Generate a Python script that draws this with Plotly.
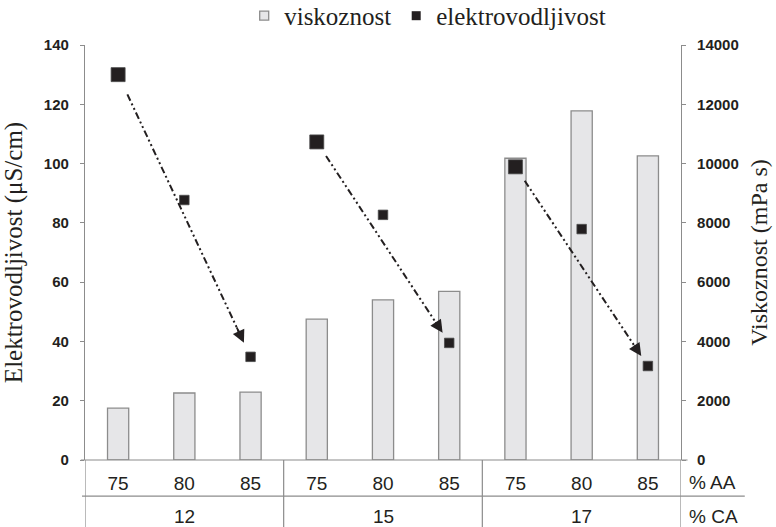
import plotly.graph_objects as go

# ---- data ----
aa_labels = ["75", "80", "85", "75", "80", "85", "75", "80", "85"]   # % AA
ca_groups = ["12", "15", "17"]                                        # % CA
viskoznost = [1750, 2260, 2290, 4750, 5400, 5690, 10180, 11780, 10260]  # mPa s
elektrovodljivost = [130, 87.7, 34.8, 107.3, 82.7, 39.5, 98.9, 77.9, 31.7]  # uS/cm
marker_sizes = [14, 9.5, 9.5, 14, 9.5, 9.5, 14, 9.5, 9.5]

DARK = "#231f20"
GRAY = "#8c8c8c"
BAR_FILL = "#e6e6e8"
SERIF = "Liberation Serif, Times New Roman, serif"
SANS = "Liberation Sans, Arial, sans-serif"

n = len(aa_labels)
xpos = list(range(n))
gsize = n // len(ca_groups)

fig = go.Figure()

# bars on the (right-side) primary axis, drawn underneath
fig.add_trace(go.Bar(
    x=xpos, y=viskoznost, yaxis="y", width=0.32,
    marker=dict(color=BAR_FILL, line=dict(color=GRAY, width=1.3)),
    name="viskoznost", showlegend=False, hoverinfo="skip"))

# conductivity on the overlaying left axis, drawn on top
fig.add_trace(go.Scatter(
    x=xpos, y=elektrovodljivost, yaxis="y2", mode="markers",
    marker=dict(symbol="square", size=marker_sizes, color=DARK, opacity=1,
                line=dict(color="#4a4a4a", width=0.8)),
    name="elektrovodljivost", showlegend=False, hoverinfo="skip"))

# dash-dot-dot arrows from first to last point of each group
annotations = []
for g in range(len(ca_groups)):
    i0, i2 = g * gsize, g * gsize + gsize - 1
    x0, y0 = xpos[i0], elektrovodljivost[i0]
    x2, y2 = xpos[i2], elektrovodljivost[i2]
    dx, dy = x2 - x0, y2 - y0
    sx, sy = x0 + 0.07 * dx, y0 + 0.07 * dy
    ex, ey = x2 - 0.05 * dx, y2 - 0.05 * dy
    fig.add_trace(go.Scatter(
        x=[sx, ex - 0.03 * dx], y=[sy, ey - 0.03 * dy], yaxis="y2", mode="lines",
        line=dict(color=DARK, width=2, dash="7px,3px,2px,3px,2px,3px"),
        showlegend=False, hoverinfo="skip"))
    annotations.append(dict(
        x=ex, y=ey, ax=ex - 0.06 * dx, ay=ey - 0.06 * dy,
        xref="x", yref="y2", axref="x", ayref="y2", text="",
        showarrow=True, arrowhead=2, arrowsize=1.4, arrowwidth=1.8,
        arrowcolor=DARK))

# legend-only entries
fig.add_trace(go.Scatter(
    x=[None], y=[None], yaxis="y2", mode="markers", name="viskoznost",
    marker=dict(symbol="square", size=9, color=BAR_FILL,
                line=dict(color=GRAY, width=1.3))))
fig.add_trace(go.Scatter(
    x=[None], y=[None], yaxis="y2", mode="markers", name="elektrovodljivost",
    marker=dict(symbol="square", size=9, color=DARK)))

# category table labels
for g, lab in enumerate(ca_groups):
    annotations.append(dict(
        x=(g * gsize + g * gsize + gsize - 1) / 2, y=-0.137, xref="x", yref="paper",
        yanchor="middle", text=lab, showarrow=False,
        font=dict(family=SANS, size=19, color=DARK)))
annotations.append(dict(x=1.01, y=-0.055, xref="paper", yref="paper", text="% AA",
                        xanchor="left", yanchor="middle", showarrow=False,
                        font=dict(family=SANS, size=19, color=DARK)))
annotations.append(dict(x=1.01, y=-0.137, xref="paper", yref="paper", text="% CA",
                        xanchor="left", yanchor="middle", showarrow=False,
                        font=dict(family=SANS, size=19, color=DARK)))

shapes = []
line_style = dict(color=GRAY, width=1.2)
# zero line
shapes.append(dict(type="line", xref="paper", yref="paper", x0=-0.007, x1=1.011,
                   y0=0, y1=0, line=line_style))
# row separator
shapes.append(dict(type="line", xref="paper", yref="paper", x0=-0.005, x1=1.107,
                   y0=-0.087, y1=-0.087, line=line_style))
# vertical lines
for k in range(len(ca_groups) + 1):
    shapes.append(dict(type="line", xref="x", yref="paper",
                       x0=k * gsize - 0.5, x1=k * gsize - 0.5, y0=0, y1=-0.18,
                       line=line_style))

fig.update_layout(
    width=776, height=527,
    margin=dict(l=85, r=95, t=45, b=67, autoexpand=False),
    paper_bgcolor="white", plot_bgcolor="white",
    showlegend=True,
    legend=dict(orientation="h", x=0.575, xanchor="center", y=1.07, yanchor="middle",
                font=dict(family=SERIF, size=25, color=DARK), itemwidth=30,
                bgcolor="rgba(0,0,0,0)"),
    xaxis=dict(range=[-0.5, n - 0.5], tickmode="array", tickvals=xpos,
               ticktext=aa_labels, ticks="", showline=False, showgrid=False,
               zeroline=False, ticklabelstandoff=10,
               tickfont=dict(family=SANS, size=19, color=DARK)),
    yaxis=dict(range=[0, 14000], dtick=2000, side="right", tickformat="d",
               ticks="outside", ticklen=4, tickcolor=GRAY, showline=True,
               linecolor=GRAY, linewidth=1.2, showgrid=False, zeroline=False,
               ticklabelstandoff=8,
               tickfont=dict(family=SANS, size=15, color=DARK, weight="bold"),
               title=dict(text="Viskoznost (mPa s)", standoff=12,
                          font=dict(family=SERIF, size=24, color=DARK))),
    yaxis2=dict(range=[0, 140], dtick=20, overlaying="y", side="left",
                ticks="outside", ticklen=4, tickcolor=GRAY, showline=True,
                linecolor=GRAY, linewidth=1.2, showgrid=False, zeroline=False,
                ticklabelstandoff=8,
                tickfont=dict(family=SANS, size=15, color=DARK, weight="bold"),
                title=dict(text="Elektrovodljivost (μS/cm)", standoff=14,
                           font=dict(family=SERIF, size=25, color=DARK))),
    shapes=shapes,
    annotations=annotations,
)

fig.write_html("out.html", config={"displayModeBar": False},
               post_script="document.body.style.margin='0';")
